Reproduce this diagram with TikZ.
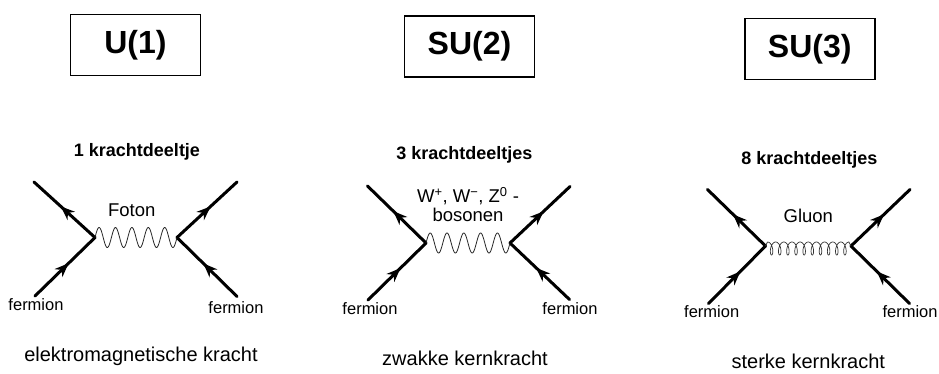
\documentclass[tikz,border=0pt]{standalone}
\usepackage{fontspec}
\setmainfont{Liberation Sans}
\usetikzlibrary{arrows.meta,decorations.markings,calc}
\tikzset{
  groupbox/.style={draw, line width=1.8pt, minimum width=130pt, minimum height=61pt, inner sep=0pt,
    font=\fontsize{32}{38}\selectfont\bfseries},
  countlbl/.style={anchor=base, font=\fontsize{18}{22}\selectfont\bfseries},
  bosonlbl/.style={anchor=base, font=\fontsize{18.5}{22}\selectfont},
  fermlbl/.style={anchor=base, font=\fontsize{16.5}{20}\selectfont},
  forcelbl/.style={anchor=base, font=\fontsize{20}{24}\selectfont},
  fermline/.style={line width=3pt, line cap=round,
    postaction={decorate, decoration={markings,
      mark=at position 0.56 with {\arrow{Stealth[length=14pt,width=11pt,inset=4.5pt]}}}}},
  photon/.style={line width=0.8pt, black!85,
    to path={let \p1=(\tikztostart), \p2=(\tikztotarget) in
      plot[variable=\t, domain=0:1, samples=200, smooth]
        ({\x1+(\x2-\x1)*\t}, {\y1+10pt*sin(1800*\t)})}},
  gluon/.style={line width=0.7pt, black!80,
    to path={let \p1=(\tikztostart), \p2=(\tikztotarget) in
      -- ++(2pt,4pt)
      plot[variable=\t, domain=0:1, samples=500, smooth]
        ({\x1+2pt+(\x2-\x1-4pt)*\t-3pt*sin(180+3600*\t)}, {\y1-2.5pt-6.5pt*cos(180+3600*\t)})
      -- (\tikztotarget)}},
}
\begin{document}
\begin{tikzpicture}[x=1pt,y=-1pt]
\useasboundingbox (0,0) rectangle (939,373);
% ---------- Panel 1: U(1)
\node[groupbox] (t1) at (135.5,45) {U(1)};
\node[countlbl] (c1) at (137,156.5) {1 krachtdeeltje};
\coordinate (vl1) at (95,237.5);
\coordinate (vr1) at (177,237.5);
\coordinate (tl1) at (34,182);
\coordinate (bl1) at (35,296);
\coordinate (tr1) at (237,182);
\coordinate (br1) at (237,296.5);
\draw[fermline] (vl1) -- (tl1);
\draw[fermline] (bl1) -- (vl1);
\draw[fermline] (vr1) -- (tr1);
\draw[fermline] (br1) -- (vr1);
\draw[photon] (vl1) to (vr1);
\node[bosonlbl] (b1) at (131.7,216) {Foton};
\node[fermlbl] (f1l) at (36,310.5) {fermion};
\node[fermlbl] (f1r) at (236,313) {fermion};
\node[forcelbl] (k1) at (141,361.5) {elektromagnetische kracht};
% ---------- Panel 2: SU(2)
\node[groupbox] (t2) at (469.5,46.7) {SU(2)};
\node[countlbl] (c2) at (464.3,159.3) {3 krachtdeeltjes};
\coordinate (vl2) at (426,243);
\coordinate (vr2) at (510,243);
\coordinate (tl2) at (367.5,186);
\coordinate (bl2) at (368,300);
\coordinate (tr2) at (570,186.5);
\coordinate (br2) at (569.5,299.5);
\draw[fermline] (vl2) -- (tl2);
\draw[fermline] (bl2) -- (vl2);
\draw[fermline] (vr2) -- (tr2);
\draw[fermline] (br2) -- (vr2);
\draw[photon] (vl2) to (vr2);
\node[bosonlbl] (b2a) at (468,202.7) {W\textsuperscript{+}, W\textsuperscript{−}, Z\textsuperscript{0} -};
\node[bosonlbl] (b2b) at (468,221.7) {bosonen};
\node[fermlbl] (f2l) at (370,314) {fermion};
\node[fermlbl] (f2r) at (570,314) {fermion};
\node[forcelbl] (k2) at (465,365) {zwakke kernkracht};
% ---------- Panel 3: SU(3)
\node[groupbox] (t3) at (809.7,49) {SU(3)};
\node[countlbl] (c3) at (809.3,164) {8 krachtdeeltjes};
\coordinate (vl3) at (765.5,246);
\coordinate (vr3) at (851,246);
\coordinate (tl3) at (707.5,189.5);
\coordinate (bl3) at (708.5,303.5);
\coordinate (tr3) at (910,189.5);
\coordinate (br3) at (909.5,303.5);
\draw[fermline] (vl3) -- (tl3);
\draw[fermline] (bl3) -- (vl3);
\draw[fermline] (vr3) -- (tr3);
\draw[fermline] (br3) -- (vr3);
\draw[gluon] (vl3) to (vr3);
\node[bosonlbl] (b3) at (808.3,222.7) {Gluon};
\node[fermlbl] (f3l) at (711.7,317.3) {fermion};
\node[fermlbl] (f3r) at (910,317.3) {fermion};
\node[forcelbl] (k3) at (808.3,368) {sterke kernkracht};
\end{tikzpicture}
\end{document}
